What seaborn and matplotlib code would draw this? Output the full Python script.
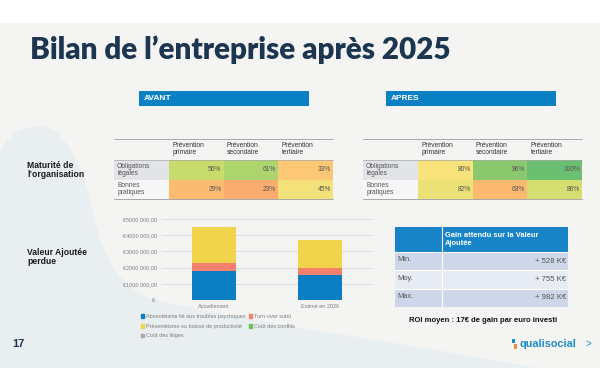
import matplotlib
matplotlib.use('Agg')
import matplotlib.pyplot as plt
import matplotlib.colors as mcolors
from matplotlib.patches import Rectangle, Patch, PathPatch
from matplotlib.path import Path
from matplotlib.ticker import FuncFormatter
import seaborn as sns
import pandas as pd
import numpy as np

# --- data ---
prevention = ['Prévention\nprimaire', 'Prévention\nsecondaire', 'Prévention\ntertiaire']
maturite_rows = ['Obligations\nlégales', 'Bonnes\npratiques']
avant = [[56, 61, 33], [29, 23, 45]]
apres = [[80, 96, 100], [82, 63, 86]]

periodes = ['Actuellement', 'Estimé en 2026']
couts = ['Absentéisme lié aux troubles psychiques', 'Turn-over subit',
         'Présentéisme ou baisse de productivité', 'Coût des conflits', 'Coût des litiges']
absenteisme = [1780000, 1520000]
turnover = [480000, 430000]
presenteisme = [2220000, 1750000]
conflits = [15000, 12000]
litiges = [10000, 8000]

gain_rows = ['Min.', 'Moy.', 'Max.']
gain_values = [528, 755, 982]
roi = 17

sns.set_theme(style='white')
plt.rcParams['font.family'] = ['Liberation Sans', 'DejaVu Sans']

W, H = 600, 380
fig = plt.figure(figsize=(6, 3.8), dpi=100)
fig.patch.set_facecolor('white')


def box(x0, y0, x1, y1):
    return [x0 / W, 1 - y1 / H, (x1 - x0) / W, (y1 - y0) / H]


# background slide
bg = fig.add_axes([0, 0, 1, 1])
bg.set_xlim(0, W)
bg.set_ylim(H, 0)
bg.axis('off')
bg.add_patch(Rectangle((0, 23), W, 345, color='#f4f4f3', lw=0))
verts = [(0, 152), (8, 134), (25, 125), (43, 127),
         (65, 130), (82, 165), (90, 200),
         (100, 250), (115, 285), (150, 298),
         (220, 318), (420, 345), (535, 368),
         (0, 368), (0, 152)]
codes = [Path.MOVETO] + [Path.CURVE4] * 12 + [Path.LINETO, Path.CLOSEPOLY]
bg.add_patch(PathPatch(Path(verts, codes), color='#e9eef0', lw=0))

bg.text(30, 50, 'Bilan de l\u2019entreprise après 2025', fontsize=21.3, fontweight='heavy',
        family=['Lato', 'DejaVu Sans'], color='#1c3651', va='center')

for x0, lab in [(139, 'AVANT'), (386, 'APRES')]:
    bg.add_patch(Rectangle((x0, 91), 170, 15, color='#0a80c4', lw=0))
    bg.text(x0 + 5, 98.5, lab, color='white', fontsize=6, fontweight='bold', va='center')

bg.text(27, 170, 'Maturité de\nl\u2019organisation', fontsize=6.2, fontweight='bold',
        color='#1a1a1a', va='center', linespacing=1.1)
bg.text(27, 257, 'Valeur Ajoutée\nperdue', fontsize=6.2, fontweight='bold',
        color='#1a1a1a', va='center', linespacing=1.1)

# --- maturity heatmaps ---
cmap = mcolors.LinearSegmentedColormap.from_list(
    'mat', [(0, '#f7a06a'), (0.25, '#fbbe72'), (0.5, '#fde47c'), (0.72, '#c6db6d'), (1, '#63bd71')])


def maturity(x0, x1, values, norm):
    ax = fig.add_axes(box(x0, 160, x1, 199))
    df = pd.DataFrame(values, index=maturite_rows, columns=prevention)
    sns.heatmap(df, ax=ax, cmap=cmap, norm=norm, cbar=False, xticklabels=False,
                yticklabels=False, linewidths=0)
    for i in range(df.shape[0]):
        for j in range(df.shape[1]):
            ax.text(j + 0.96, i + 0.5, f'{df.iat[i, j]}%', ha='right', va='center',
                    fontsize=4.8, color='#555555')
    for i, lab in enumerate(maturite_rows):
        ax.add_patch(Rectangle((-1, i), 1, 1, color='#e2e4e7' if i == 0 else '#f7f7f7',
                               lw=0, clip_on=False))
        ax.text(-0.95, i + 0.5, lab, fontsize=4.8, color='#555555', va='center',
                linespacing=1.0)
    for j, lab in enumerate(prevention):
        ax.text(j + 0.06, -0.54, lab, fontsize=4.8, color='#333333', va='center',
                linespacing=1.0)
    for y, lw in [(-1.08, 0.7), (0, 0.5), (2, 0.7)]:
        ax.plot([-1, 3], [y, y], color='#a8a8a8', lw=lw, clip_on=False)
    ax.axis('off')


maturity(169, 333, avant, mcolors.TwoSlopeNorm(vmin=18, vcenter=42, vmax=75))
maturity(418, 582, apres, mcolors.TwoSlopeNorm(vmin=52, vcenter=79, vmax=101))

# --- stacked bar chart ---
ax = fig.add_axes(box(161, 219, 373, 300))
ax.patch.set_alpha(0)
layers = [absenteisme, turnover, presenteisme, conflits, litiges]
colors = ['#0b7fc1', '#f4806d', '#f2d34c', '#6dbf5c', '#a9a9a9']
cum = np.cumsum(np.array(layers, dtype=float), axis=0)
for k in reversed(range(len(layers))):
    sns.barplot(x=periodes, y=cum[k], color=colors[k], width=0.41, saturation=1,
                linewidth=0, ax=ax)
ax.set_ylim(0, 5000000)
ax.set_xlim(-0.5, 1.5)
ax.set_yticks(np.arange(0, 5000001, 1000000))


def euro(v, pos):
    if v == 0:
        return '€-'
    p = f'{int(v):,}'.split(',')
    return '€' + p[0] + p[1] + ' ' + ' '.join(p[2:]) + ',00'


ax.yaxis.set_major_formatter(FuncFormatter(euro))
ax.yaxis.grid(True, color='#d9d9d9', lw=0.6)
ax.set_axisbelow(True)
sns.despine(ax=ax, left=True, bottom=True)
ax.tick_params(axis='both', length=0, labelsize=4, labelcolor='#7f7f7f', pad=3)

handles = [Patch(color=c, label=l) for c, l in zip(colors, couts)]
order = [0, 2, 4, 1, 3]
fig.legend([handles[i] for i in order], [couts[i] for i in order], loc='upper left',
           bbox_to_anchor=(141 / W, 1 - 314 / H), ncol=2, frameon=False, fontsize=4,
           handlelength=0.6, handleheight=0.6, handletextpad=0.3, columnspacing=0.6,
           labelspacing=0.85, borderaxespad=0, borderpad=0, labelcolor='#7f7f7f')

# --- gain table ---
gt = fig.add_axes(box(395, 227, 568, 307))
gt.set_xlim(0, 173)
gt.set_ylim(80, 0)
gt.axis('off')
gt.add_patch(Rectangle((0, 0), 173, 25, color='#1884c7', lw=0))
gt.text(50, 12.5, 'Gain attendu sur la Valeur\nAjoutée', color='white', fontsize=5.4,
        fontweight='bold', va='center', linespacing=1.05)
rh = 55 / 3
for i, (lab, v) in enumerate(zip(gain_rows, gain_values)):
    y = 25 + i * rh
    gt.add_patch(Rectangle((0, y), 173, rh, color='#cdd7e9' if i % 2 == 0 else '#e6ebf4', lw=0))
    gt.plot([0, 173], [y, y], color='white', lw=0.8)
    gt.text(2, y + rh / 2 - 1.5, lab, fontsize=5.4, color='#555555', va='center')
    gt.text(171, y + rh / 2, f'+ {v} K€', fontsize=5.6, color='#555555', va='center', ha='right')
gt.plot([47, 47], [0, 80], color='white', lw=0.8)

bg.text(483, 320, f'ROI moyen : {roi}€ de gain par euro investi', ha='center', va='center',
        fontsize=5.5, fontweight='bold', color='#111111')

# --- footer ---
bg.text(12, 344, '17', fontsize=8, fontweight='heavy', color='#1c3651', va='center')
bg.add_patch(Rectangle((512, 339), 2.5, 4, color='#1f8dc9', lw=0))
bg.add_patch(Rectangle((514, 344), 2.5, 5, color='#f08a3c', lw=0))
bg.text(520, 344, 'qualisocial', fontsize=7.8, fontweight='bold', color='#1f8dc9', va='center')
bg.text(585, 344, '>', fontsize=7, color='#1f8dc9', va='center')

fig.savefig('out.png', dpi=100)
